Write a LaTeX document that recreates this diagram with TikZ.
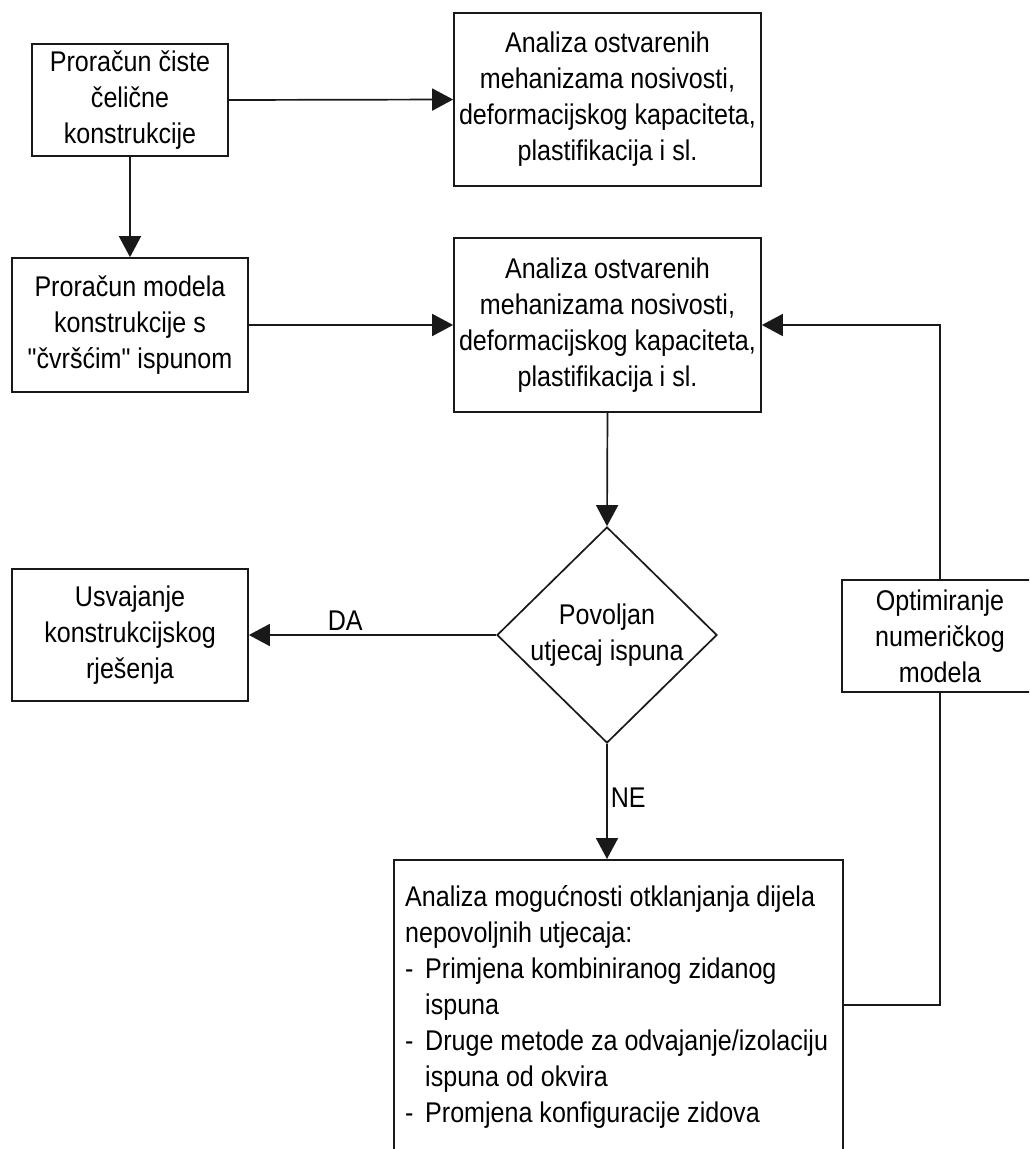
\documentclass[tikz,border=0pt]{standalone}
\usepackage{fontspec}
\setmainfont{Liberation Sans}[FakeStretch=0.88, Ligatures=TeXOff]
\usetikzlibrary{arrows.meta,shapes.geometric}
\begin{document}
\begin{tikzpicture}[x=1pt,y=-1pt,
  txt/.style={font=\fontsize{28.5}{36}\selectfont},
  box/.style={draw=black!90, line width=1.7pt, align=center, inner sep=0pt, txt},
  arr/.style={draw=black!90, line width=1.7pt, -{Triangle[length=21pt,width=22pt]}},
  conn/.style={draw=black!90, line width=1.7pt}]
\useasboundingbox (0,0) rectangle (1029,1149);
\clip (0,0) rectangle (1029,1149);
\fill[white] (0,0) rectangle (1029,1149);

\node[box, minimum width=196pt, minimum height=112pt] (b1) at (130,100) {Proračun čiste\\čelične\\konstrukcije};
\node[box, minimum width=307pt, minimum height=173pt] (b2) at (607.5,99.5) {Analiza ostvarenih\\mehanizama nosivosti,\\deformacijskog kapaciteta,\\plastifikacija i sl.};
\node[box, minimum width=236pt, minimum height=134pt] (b3) at (130,325) {Proračun modela\\konstrukcije s\\"čvršćim" ispunom};
\node[box, minimum width=307pt, minimum height=174pt] (b4) at (607.5,325) {Analiza ostvarenih\\mehanizama nosivosti,\\deformacijskog kapaciteta,\\plastifikacija i sl.};
\node[box, diamond, aspect=1, minimum width=220pt, minimum height=216pt] (d) at (607,635) {Povoljan\\utjecaj ispuna};
\node[box, minimum width=236pt, minimum height=132pt] (b5) at (130,635) {Usvajanje\\konstrukcijskog\\rješenja};
\node[box, minimum width=216pt, minimum height=112pt, text width=196pt] (b6) at (950,636) {\hspace*{-20pt}Optimiranje\\\hspace*{-20pt}numeričkog\\\hspace*{-20pt}modela};
\node[box, anchor=north west, minimum width=449pt, minimum height=330pt] (b7) at (393,859) {};
\node[txt, anchor=north west, inner sep=0pt, align=left] (b7t) at (405,885)
  {Analiza mogućnosti otklanjanja dijela\\
   nepovoljnih utjecaja:\\
   \hbox to 20pt{-\hfil}Primjena kombiniranog zidanog\\
   \hspace*{20pt}ispuna\\
   \hbox to 20pt{-\hfil}Druge metode za odvajanje/izolaciju\\
   \hspace*{20pt}ispuna od okvira\\
   \hbox to 20pt{-\hfil}Promjena konfiguracije zidova};

\coordinate (fb) at (940,1005);
\coordinate (fbt) at (940,325);

\draw[arr] (b1.east) -- (b2.west);
\draw[arr] (b1.south) -- (b3.north);
\draw[arr] (b3.east) -- (b4.west);
\draw[arr] (b4.south) -- (d.north);
\draw[arr] (d.west) -- node[txt, pos=0.61, above, inner sep=4pt] (da) {DA} (b5.east);
\draw[arr] (d.south) -- node[txt, pos=0.47, right, inner sep=3pt] (ne) {NE} (d.south |- b7.north);
\draw[conn] (fb -| b7.east) -- (fb) -- (fb |- b6.south);
\draw[arr] (fbt |- b6.north) -- (fbt) -- (b4.east);
\end{tikzpicture}
\end{document}
